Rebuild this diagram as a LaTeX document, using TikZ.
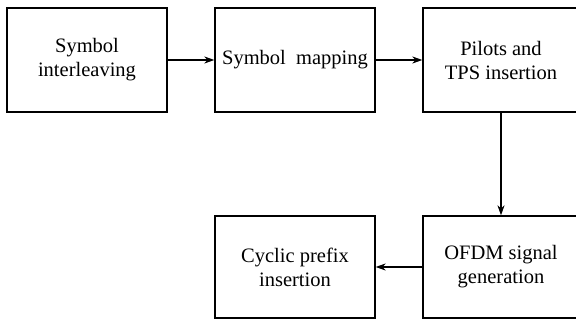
\documentclass[tikz,border=0pt]{standalone}
\usepackage{fontspec}
\setmainfont{Liberation Serif}
\usetikzlibrary{arrows.meta}
\begin{document}
\begin{tikzpicture}[x=1pt,y=-1pt,
  blk/.style={draw, line width=1.3pt, rectangle, minimum width=160pt, minimum height=104pt, inner sep=0pt, align=center, font=\fontsize{20.5}{24}\selectfont},
  conn/.style={line width=1.3pt, -{Stealth[length=10pt,width=7pt,inset=3pt]}}]
\clip (0,0) rectangle (576,320);
\useasboundingbox (0,0) rectangle (576,320);
\node[blk] (si) at (87,60) {Symbol\\interleaving};
\node[blk] (sm) at (295,60) {Symbol\ \ mapping};
\node[blk, minimum width=156pt] (pt) at (501,60) {Pilots and\\TPS insertion};
\node[blk, minimum height=102pt] (cp) at (295,267) {Cyclic prefix\\insertion};
\node[blk, minimum width=156pt, minimum height=102pt] (of) at (501,267) {OFDM signal\\generation};
\draw[conn] (si) -- (sm);
\draw[conn] (sm) -- (pt);
\draw[conn] (pt) -- (of);
\draw[conn] (of) -- (cp);
\end{tikzpicture}
\end{document}
